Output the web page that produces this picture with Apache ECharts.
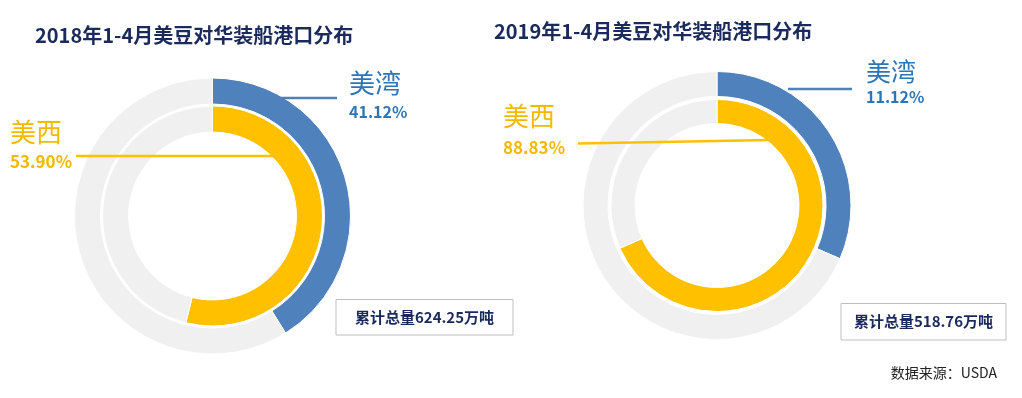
<!DOCTYPE html>
<html>
<head>
<meta charset="utf-8">
<script src="https://cdn.jsdelivr.net/npm/echarts@6/dist/echarts.min.js"></script>
<style>
html,body{margin:0;padding:0;background:#fff;}
#c{width:1022px;height:398px;}
</style>
</head>
<body>
<div id="c"></div>
<script>
// ---- data ----
const years = ['2018', '2019'];
const regions = ['美西', '美湾'];
// percentages printed on the chart
const labelPct2018 = [53.90, 41.12];
const labelPct2019 = [88.83, 11.12];
// arc shares as drawn in the picture (2019 arcs are not drawn to the printed shares)
const arc2018 = [53.90, 41.12];
const arc2019 = [68.4, 31.5];
const totals = ['624.25', '518.76'];
const sourceText = '数据来源：USDA';

const BLUE = '#4f81bd', YELLOW = '#ffc000', GRAY = '#f0f0f0';
const NAVY = '#1b2a5c', BLUE_TXT = '#2e75b6', YELLOW_TXT = '#f5b800';
const FONT = '"Noto Sans CJK SC", "Open Sans", sans-serif';

function ring(center, radius, share, color) {
  return {
    type: 'pie', center: center, radius: radius, silent: true, z: 2,
    startAngle: 90, clockwise: true, animation: false,
    label: {show: false}, labelLine: {show: false},
    itemStyle: {borderColor: '#fff', borderWidth: 1},
    data: [
      {value: share, itemStyle: {color: color}},
      {value: 100 - share, itemStyle: {color: GRAY}}
    ]
  };
}

const fmt = v => v.toFixed(2) + '%';

function txt(x, y, text, size, color, weight, align) {
  return {type: 'text', x: x, y: y, silent: true, z: 100,
    style: {text: text, fontSize: size, fontFamily: FONT, fontWeight: weight || 'normal',
      fill: color, align: align || 'left', verticalAlign: 'middle'}};
}
function line(x1, y1, x2, y2, color) {
  return {type: 'line', silent: true, z: 100, shape: {x1: x1, y1: y1, x2: x2, y2: y2},
    style: {stroke: color, lineWidth: 2.5}};
}
function box(x, y, w, h, text) {
  return [
    {type: 'rect', silent: true, z: 100, shape: {x: x, y: y, width: w, height: h},
      style: {fill: '#fff', stroke: '#bfbfbf', lineWidth: 1}},
    txt(x + w / 2, y + h / 2, text, 15, NAVY, 'bold', 'center')
  ];
}

const chart = echarts.init(document.getElementById('c'), null, {renderer: 'canvas'});
chart.setOption({
  backgroundColor: '#fff',
  title: [
    {text: years[0] + '年1-4月美豆对华装船港口分布', left: 30, top: 20,
      textStyle: {fontSize: 20, fontWeight: 'bold', color: NAVY, fontFamily: FONT}},
    {text: years[1] + '年1-4月美豆对华装船港口分布', left: 489, top: 16,
      textStyle: {fontSize: 20, fontWeight: 'bold', color: NAVY, fontFamily: FONT}}
  ],
  series: [
    ring([212.5, 216], [112, 138], arc2018[1], BLUE),
    ring([212.5, 216], [84, 110], arc2018[0], YELLOW),
    ring([717, 205.5], [109, 134], arc2019[1], BLUE),
    ring([717, 205.5], [82, 106], arc2019[0], YELLOW)
  ],
  graphic: {
    elements: [
      // 2018
      line(280, 98, 337, 98, BLUE),
      txt(349, 83, regions[1], 26, BLUE_TXT),
      txt(349, 112, fmt(labelPct2018[1]), 16, BLUE_TXT, 'bold'),
      line(76, 156, 274, 156, YELLOW),
      txt(10, 132, regions[0], 26, YELLOW_TXT),
      txt(10, 162, fmt(labelPct2018[0]), 17, YELLOW_TXT, 'bold'),
      ...box(336, 299.5, 177, 35.5, '累计总量' + totals[0] + '万吨'),
      // 2019
      line(788, 89, 852, 89, BLUE),
      txt(866, 71, regions[1], 25, BLUE_TXT),
      txt(866, 97, fmt(labelPct2019[1]), 16, BLUE_TXT, 'bold'),
      line(578, 143.5, 770, 140, YELLOW),
      txt(503, 116, regions[0], 26, YELLOW_TXT),
      txt(503, 147.5, fmt(labelPct2019[0]), 17, YELLOW_TXT, 'bold'),
      ...box(841, 303.5, 165, 36.5, '累计总量' + totals[1] + '万吨'),
      txt(997, 372.5, sourceText, 14, '#222', 'normal', 'right')
    ]
  }
});
</script>
</body>
</html>
